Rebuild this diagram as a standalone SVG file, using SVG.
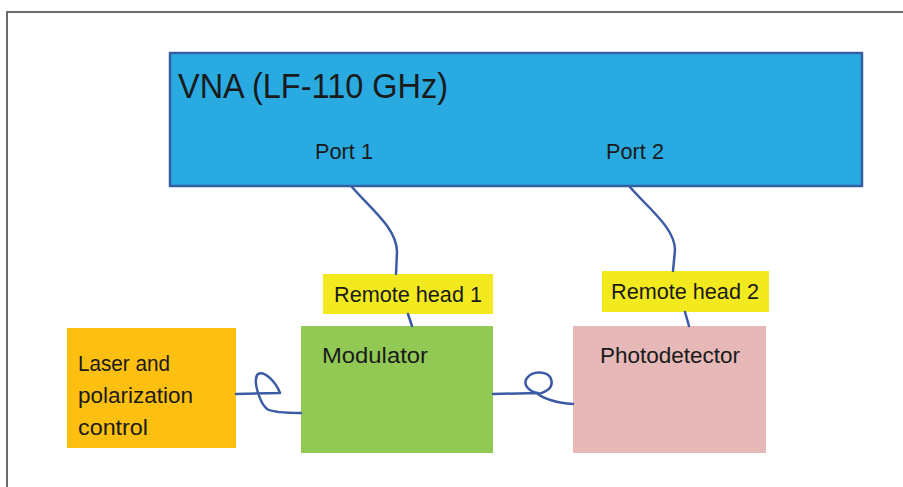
<svg xmlns="http://www.w3.org/2000/svg" width="903" height="487" viewBox="0 0 903 487">
  <style>
    .lbl { font-family: "Liberation Sans", Arial, sans-serif; fill: #1a1a1a; }
    .cable { fill: none; stroke: #3b5ba5; stroke-width: 2.5; stroke-linecap: round; stroke-linejoin: round; }
    .frame { fill: none; stroke: #6b6b6b; stroke-width: 2; }
  </style>
  <rect x="0" y="0" width="903" height="487" fill="#ffffff"/>
  <!-- outer frame: top and left edges only -->
  <path class="frame" d="M7,487 L7,12 L903,12"/>

  <g id="vna">
    <rect x="170" y="53" width="692" height="133" fill="#29abe2" stroke="#35609f" stroke-width="2.5"/>
    <text class="lbl" x="178" y="98" font-size="35" textLength="270" lengthAdjust="spacingAndGlyphs">VNA (LF-110 GHz)</text>
    <text class="lbl" x="315" y="159" font-size="22" textLength="58" lengthAdjust="spacingAndGlyphs">Port 1</text>
    <text class="lbl" x="606" y="159" font-size="22" textLength="58" lengthAdjust="spacingAndGlyphs">Port 2</text>
  </g>

  <g id="remote-head-1">
    <rect x="323" y="274" width="170" height="40" fill="#f2ea1f"/>
    <text class="lbl" x="334" y="302" font-size="22" textLength="148" lengthAdjust="spacingAndGlyphs">Remote head 1</text>
  </g>

  <g id="remote-head-2">
    <rect x="602" y="271" width="167" height="41" fill="#f2ea1f"/>
    <text class="lbl" x="611" y="299" font-size="22" textLength="148" lengthAdjust="spacingAndGlyphs">Remote head 2</text>
  </g>

  <g id="laser">
    <rect x="67" y="328" width="169" height="120" fill="#fdc010"/>
    <text class="lbl" x="78" y="371" font-size="22" textLength="92" lengthAdjust="spacingAndGlyphs">Laser and</text>
    <text class="lbl" x="78" y="403" font-size="22" textLength="115" lengthAdjust="spacingAndGlyphs">polarization</text>
    <text class="lbl" x="78" y="435" font-size="22" textLength="70" lengthAdjust="spacingAndGlyphs">control</text>
  </g>

  <g id="modulator">
    <rect x="301" y="326" width="192" height="127" fill="#92c954"/>
    <text class="lbl" x="322" y="363" font-size="22" textLength="106" lengthAdjust="spacingAndGlyphs">Modulator</text>
  </g>

  <g id="photodetector">
    <rect x="573" y="326" width="193" height="127" fill="#e6b8b7"/>
    <text class="lbl" x="600" y="363" font-size="22" textLength="140" lengthAdjust="spacingAndGlyphs">Photodetector</text>
  </g>

  <g id="connectors">
    <!-- RF cables from the VNA ports down to the remote heads -->
    <path class="cable" d="M352,187 C370,208 397,228 397,252 L396,274"/>
    <path class="cable" d="M630,187 C648,208 675,228 675,250 L673,271"/>
    <!-- remote heads to modulator / photodetector -->
    <path class="cable" d="M408,314 L412,326"/>
    <path class="cable" d="M685,312 L689,326"/>
    <!-- fibre from laser to modulator, with a loop -->
    <path class="cable" d="M236,394 L280,393 C276,382 264,370 258,374 C252,380 260,403 267,409 C274,413 290,413 301,413"/>
    <!-- fibre from modulator to photodetector, with a loop -->
    <path class="cable" d="M493,394 L538,393 C530,392 522,385 527,378 C533,370 548,371 551,379 C554,388 546,392 538,394 C547,401 560,403 573,404"/>
  </g>
</svg>
